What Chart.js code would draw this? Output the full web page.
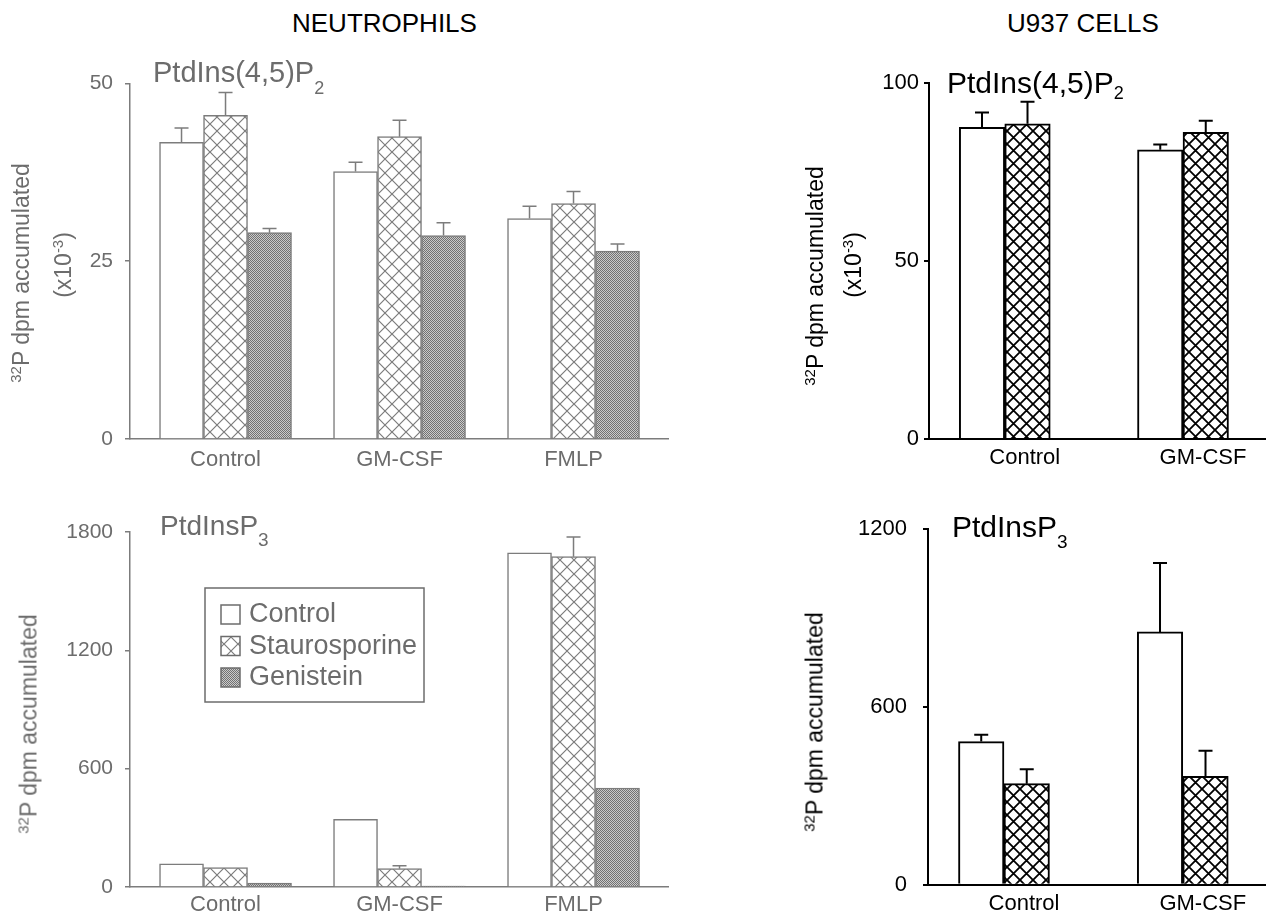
<!DOCTYPE html>
<html>
<head>
<meta charset="utf-8">
<script src="https://cdn.jsdelivr.net/npm/chart.js@4.4.0/dist/chart.umd.min.js"></script>
<style>
body{margin:0;background:#fff;width:1270px;height:914px;position:relative;overflow:hidden;font-family:"Liberation Sans",Arial,sans-serif}
canvas{position:absolute}
.t{position:absolute;white-space:nowrap;line-height:1;z-index:2}
.rot{transform:translate(-50%,-50%) rotate(-90deg)}
.g{color:#6c6c6c}
.k{color:#000}
sup{font-size:0.65em;vertical-align:0;position:relative;top:-0.55em}
</style>
</head>
<body>

<div class="t k" style="left:292px;top:10px;font-size:26px">NEUTROPHILS</div>
<div class="t k" style="left:1007px;top:10px;font-size:26px">U937 CELLS</div>

<div class="t g" style="left:153px;top:58px;font-size:29px">PtdIns(4,5)P<span style="font-size:18px;position:relative;top:12px">2</span></div>
<div class="t g" style="left:160px;top:512px;font-size:28px">PtdInsP<span style="font-size:19px;position:relative;top:11px">3</span></div>
<div class="t k" style="left:947px;top:68px;font-size:30px">PtdIns(4,5)P<span style="font-size:18px;position:relative;top:6px">2</span></div>
<div class="t k" style="left:952px;top:512px;font-size:30px">PtdInsP<span style="font-size:19px;position:relative;top:11px">3</span></div>

<div class="t g rot" style="left:21px;top:273px;font-size:23px"><sup>32</sup>P dpm accumulated</div>
<div class="t g rot" style="left:63px;top:265px;font-size:23px">(x10<sup>-3</sup>)</div>
<div class="t g rot" style="left:29px;top:724px;font-size:23px"><sup>32</sup>P dpm accumulated</div>
<div class="t k rot" style="left:815px;top:276px;font-size:23px"><sup>32</sup>P dpm accumulated</div>
<div class="t k rot" style="left:853px;top:265px;font-size:23px">(x10<sup>-3</sup>)</div>
<div class="t k rot" style="left:815px;top:722px;font-size:23px"><sup>32</sup>P dpm accumulated</div>

<canvas id="tl" width="700" height="440" style="left:0;top:40px"></canvas>
<canvas id="bl" width="700" height="424" style="left:0;top:490px"></canvas>
<canvas id="tr" width="510" height="440" style="left:760px;top:40px"></canvas>
<canvas id="br" width="510" height="424" style="left:760px;top:490px"></canvas>

<script>
// categories and series names
const neutroCats=["Control","GM-CSF","FMLP"]
const u937Cats=["Control","GM-CSF"]
const seriesNames=["Control","Staurosporine","Genistein"]

// neutrophils, PtdIns(4,5)P2 (x10^-3)
const nPip2Control=[41.7,37.6,31.0]
const nPip2ControlErr=[2.0,1.3,1.7]
const nPip2Stauro=[45.5,42.5,33.1]
const nPip2StauroErr=[3.2,2.3,1.7]
const nPip2Genist=[29.0,28.6,26.4]
const nPip2GenistErr=[0.6,1.8,1.0]
const nPip2Ticks=[0,25,50]

// neutrophils, PtdInsP3
const nPip3Control=[118,343,1695]
const nPip3ControlErr=[0,0,0]
const nPip3Stauro=[98,93,1675]
const nPip3StauroErr=[0,15,100]
const nPip3Genist=[20,5,502]
const nPip3GenistErr=[0,0,0]
const nPip3Ticks=[0,600,1200,1800]

// U937, PtdIns(4,5)P2 (x10^-3)
const uPip2Control=[87.6,81.3]
const uPip2ControlErr=[4.2,1.5]
const uPip2Stauro=[88.6,86.2]
const uPip2StauroErr=[6.2,3.3]
const uPip2Ticks=[0,50,100]

// U937, PtdInsP3
const uPip3Control=[483,853]
const uPip3ControlErr=[23,232]
const uPip3Stauro=[341,366]
const uPip3StauroErr=[49,86]
const uPip3Ticks=[0,600,1200]

const FONT="'Liberation Sans', Arial, sans-serif"

function hatch(ctx,p,color,w){
const c=document.createElement("canvas")
c.width=p;c.height=p
const g=c.getContext("2d")
g.fillStyle="#fff";g.fillRect(0,0,p,p)
g.strokeStyle=color;g.lineWidth=w
g.beginPath()
g.moveTo(-2,-2);g.lineTo(p+2,p+2)
g.moveTo(-2,p+2);g.lineTo(p+2,-2)
g.stroke()
return ctx.createPattern(c,"repeat")
}

function stipple(ctx){
const c=document.createElement("canvas")
c.width=2;c.height=2
const g=c.getContext("2d")
g.fillStyle="#cacaca";g.fillRect(0,0,2,2)
g.fillStyle="#727272";g.fillRect(0,0,1,1);g.fillRect(1,1,1,1)
return ctx.createPattern(c,"repeat")
}

const errorBars={
id:"errorBars",
afterDatasetsDraw(chart){
const ctx=chart.ctx
const y=chart.scales.y
chart.data.datasets.forEach((ds,di)=>{
const meta=chart.getDatasetMeta(di)
meta.data.forEach((bar,i)=>{
const e=ds.err[i]
if(!e) return
const top=y.getPixelForValue(ds.data[i].y+e)
ctx.save()
ctx.strokeStyle=ds.borderColor
ctx.lineWidth=ds.borderWidth
ctx.beginPath()
ctx.moveTo(bar.x,bar.y)
ctx.lineTo(bar.x,top)
ctx.moveTo(bar.x-7,top)
ctx.lineTo(bar.x+7,top)
ctx.stroke()
ctx.restore()
})
})
}
}

const boxLegend={
id:"boxLegend",
afterDraw(chart,args,o){
if(!o.show) return
const ctx=chart.ctx
const a=chart.chartArea
const x=a.left+o.dx, y=a.top+o.dy
ctx.save()
ctx.strokeStyle=o.color
ctx.lineWidth=1.5
ctx.strokeRect(x,y,o.w,o.h)
ctx.font="27px "+FONT
ctx.textBaseline="middle"
chart.data.datasets.forEach((ds,i)=>{
const ry=y+o.first+i*o.step
ctx.fillStyle=ds.backgroundColor
ctx.fillRect(x+16,ry-9,19,19)
ctx.strokeRect(x+16,ry-9,19,19)
ctx.fillStyle=o.color
ctx.fillText(ds.label,x+44,ry+1)
})
ctx.restore()
}
}

function panel(id,cfg){

const el=document.getElementById(id)
const ctx=el.getContext("2d")
const fills=["#fff",hatch(ctx,cfg.period,cfg.line,cfg.hatchW),stipple(ctx)]

const datasets=cfg.series.map((s,i)=>({
label:seriesNames[i],
data:s.map((v,j)=>({x:j+1,y:v})),
err:cfg.errs[i],
backgroundColor:fills[i],
borderColor:cfg.line,
borderWidth:cfg.lw,
barThickness:cfg.bar
}))

return new Chart(el,{
type:"bar",
data:{datasets},
plugins:[errorBars,boxLegend],
options:{
responsive:false,
animation:false,
devicePixelRatio:1,
layout:{padding:cfg.pad},
plugins:{
legend:{display:false},
tooltip:{enabled:false},
boxLegend:cfg.legend||{show:false}
},
scales:{
x:{
type:"linear",
min:cfg.xMin,
max:cfg.xMax,
offset:false,
afterBuildTicks:s=>{s.ticks=cfg.cats.map((c,i)=>({value:i+1}))},
afterFit:s=>{s.height=cfg.xH},
border:{color:cfg.line,width:cfg.lw},
grid:{display:false,drawTicks:false},
ticks:{
callback:v=>cfg.cats[v-1],
color:cfg.text,
font:{family:FONT,size:22},
padding:cfg.xPad,
labelOffset:cfg.labelOffset,
maxRotation:0,
autoSkip:false
}
},
y:{
min:0,
max:cfg.ticks[cfg.ticks.length-1],
afterBuildTicks:s=>{s.ticks=cfg.ticks.map(v=>({value:v}))},
afterFit:s=>{s.width=cfg.yW},
border:{color:cfg.line,width:cfg.lw},
grid:{drawOnChartArea:false,drawTicks:true,tickLength:5,color:cfg.line,lineWidth:cfg.lw},
ticks:{callback:v=>String(v),color:cfg.text,font:{family:FONT,size:cfg.yFont},padding:cfg.yPad}
}
}
}
})

}

const grayStyle={line:"#7c7c7c",text:"#6c6c6c",lw:1.5,hatchW:1.2,period:14,bar:44,cats:neutroCats,xMin:0.451,xMax:3.543,yW:130,labelOffset:0,yPad:12,yFont:21}
const blackStyle={line:"#000",text:"#000",lw:2,hatchW:1.8,period:13,bar:45.5,cats:u937Cats,xMin:0.575,xMax:2.46,labelOffset:20,yFont:22}

panel("tl",Object.assign({},grayStyle,{
series:[nPip2Control,nPip2Stauro,nPip2Genist],
errs:[nPip2ControlErr,nPip2StauroErr,nPip2GenistErr],
ticks:nPip2Ticks,
pad:{top:43.3,left:0,right:32,bottom:0},
xH:41,xPad:8
}))

panel("bl",Object.assign({},grayStyle,{
series:[nPip3Control,nPip3Stauro,nPip3Genist],
errs:[nPip3ControlErr,nPip3StauroErr,nPip3GenistErr],
ticks:nPip3Ticks,
pad:{top:42,left:0,right:32,bottom:0},
xH:27,xPad:5,
legend:{show:true,color:"#6c6c6c",dx:75,dy:56,w:219,h:114,first:26,step:31.5}
}))

panel("tr",Object.assign({},blackStyle,{
series:[uPip2Control,uPip2Stauro],
errs:[uPip2ControlErr,uPip2StauroErr],
ticks:uPip2Ticks,
pad:{top:43.3,left:0,right:5,bottom:0},
yW:169,yPad:5,
xH:41,xPad:6
}))

panel("br",Object.assign({},blackStyle,{
series:[uPip3Control,uPip3Stauro],
errs:[uPip3ControlErr,uPip3StauroErr],
ticks:uPip3Ticks,
pad:{top:39,left:0,right:5,bottom:0},
yW:168,yPad:16,
xH:29,xPad:6
}))
</script>
</body>
</html>
